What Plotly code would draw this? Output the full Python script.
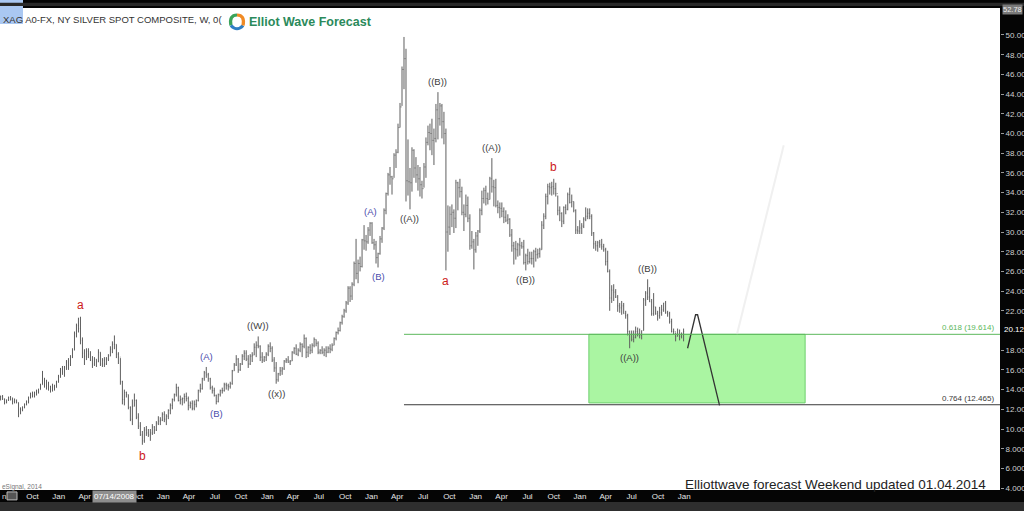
import pandas as pd
import plotly.graph_objects as go

# ---------------- data (weekly silver bars, Jun 2007 - Dec 2013) ----------------
week_start = "2007-06-11"

high = [
    # 2007
    13.40, 13.45, 13.10, 13.00, 13.30, 13.35, 13.20, 13.10, 13.00, 12.70,
    12.20, 12.30, 12.60, 12.90, 13.30, 13.70, 13.80, 13.80, 14.00, 14.10,
    14.60, 15.90, 15.20, 15.00, 14.80, 14.40, 14.60, 14.50, 14.90, 15.50,
    # 2008
    16.20, 16.40, 16.40, 17.00, 17.20, 17.50, 18.20, 19.90, 20.70, 21.30,
    21.40, 19.30, 18.10, 18.20, 18.20, 17.90, 17.40, 17.30, 17.10, 18.10,
    17.80, 17.20, 17.30, 17.30, 17.60, 18.40, 18.90, 19.50, 18.60, 17.80,
    17.20, 14.90, 14.00, 13.80, 13.50, 12.30, 13.00, 13.60, 13.00, 11.60,
    10.70, 9.80, 10.20, 10.30, 10.00, 10.00, 10.50, 10.30, 10.80, 11.30,
    11.20, 11.70,
    # 2009
    11.80, 11.50, 12.00, 12.60, 13.10, 13.60, 14.60, 14.30, 13.40, 13.20,
    13.60, 13.70, 13.30, 12.80, 12.90, 12.90, 13.00, 14.00, 14.60, 15.20,
    15.90, 16.30, 15.70, 15.20, 14.40, 14.20, 13.50, 13.60, 14.00, 14.20,
    14.70, 14.70, 14.60, 14.80, 16.00, 16.70, 17.50, 17.20, 16.70, 17.60,
    18.00, 18.00, 17.50, 17.60, 17.80, 18.70, 18.90, 19.40, 18.50, 17.80,
    17.40, 17.80,
    # 2010
    18.60, 18.80, 18.40, 17.30, 16.80, 15.70, 16.30, 16.30, 17.00, 17.20,
    17.40, 17.00, 17.90, 18.30, 18.60, 18.20, 18.80, 18.70, 19.60, 19.30,
    18.40, 18.60, 18.70, 19.30, 19.10, 18.90, 18.10, 18.40, 18.20, 18.40,
    18.40, 18.60, 18.70, 19.30, 19.90, 20.30, 20.90, 21.60, 22.20, 23.00,
    24.50, 24.50, 24.90, 27.00, 29.30, 27.20, 27.50, 29.30, 30.70, 29.70,
    30.50, 31.00,
    # 2011
    31.00, 29.30, 29.10, 27.90, 29.60, 30.50, 32.40, 34.00, 36.00, 36.60,
    35.70, 38.00, 38.40, 41.00, 43.10, 46.80, 49.80, 48.60, 39.40, 36.50,
    38.60, 38.40, 37.60, 36.80, 36.60, 35.20, 37.00, 39.60, 40.80, 41.00,
    41.50, 40.50, 43.00, 44.20, 43.10, 43.00, 42.20, 40.50, 32.70, 32.60,
    32.80, 32.30, 35.30, 35.10, 35.40, 34.60, 32.80, 33.80, 33.60, 31.80,
    30.10, 29.30,
    # 2012
    30.00, 30.20, 32.40, 34.20, 34.50, 34.70, 34.00, 35.60, 37.50, 35.30,
    35.40, 33.20, 33.00, 33.00, 32.50, 32.20, 31.80, 31.40, 30.30, 29.00,
    29.10, 28.90, 29.40, 29.00, 29.20, 27.80, 28.30, 28.00, 28.00, 28.20,
    28.40, 28.30, 28.40, 31.10, 31.90, 33.90, 34.90, 35.00, 35.10, 35.40,
    35.00, 33.70, 32.60, 32.00, 32.60, 32.80, 34.00, 34.50, 33.80, 33.10,
    32.30, 30.60, 31.20,
    # 2013
    30.90, 31.50, 32.50, 32.40, 32.40, 31.80, 30.00, 29.10, 29.10, 29.20,
    29.30, 28.80, 28.40, 28.10, 26.20, 24.60, 24.70, 24.20, 23.60, 22.80,
    23.00, 22.80, 22.00, 21.70, 20.00, 20.00, 20.00, 20.40, 20.30, 20.20,
    20.00, 23.30, 24.00, 25.20, 24.40, 23.20, 23.80, 22.40, 22.00, 22.40,
    22.60, 22.80, 23.00, 22.00, 21.90, 21.20, 20.20, 19.80, 20.20, 20.10,
    19.80, 20.20,
]

low = [
    # 2007
    12.90, 12.95, 12.50, 12.60, 12.85, 12.90, 12.50, 12.60, 12.60, 11.20,
    11.50, 11.80, 12.10, 12.40, 12.60, 13.10, 13.20, 13.20, 13.40, 13.60,
    14.00, 14.50, 14.20, 14.00, 13.90, 13.70, 13.80, 13.90, 14.20, 14.70,
    # 2008
    15.20, 15.50, 15.30, 16.00, 16.00, 16.40, 17.20, 18.00, 19.30, 19.80,
    18.60, 17.20, 16.50, 17.00, 17.20, 16.90, 16.20, 16.40, 16.30, 16.80,
    16.40, 16.30, 16.30, 16.50, 16.90, 17.40, 17.70, 18.10, 17.20, 16.60,
    14.50, 12.50, 12.40, 13.20, 12.00, 10.80, 10.40, 12.30, 11.00, 10.00,
    9.30, 8.40, 8.60, 9.30, 9.20, 8.80, 9.40, 9.50, 9.80, 10.40,
    10.40, 10.80,
    # 2009
    10.70, 10.40, 11.00, 11.50, 12.00, 12.80, 13.30, 12.80, 12.50, 12.40,
    12.60, 12.80, 11.90, 12.10, 11.90, 11.90, 12.20, 12.80, 13.70, 14.00,
    14.90, 15.20, 14.80, 14.00, 13.60, 13.30, 12.50, 12.70, 13.30, 13.60,
    13.80, 14.00, 13.90, 14.10, 14.50, 15.90, 16.40, 15.70, 15.90, 16.50,
    17.00, 16.90, 16.20, 16.50, 16.80, 17.50, 17.30, 18.20, 16.90, 16.70,
    16.80, 16.90,
    # 2010
    17.40, 17.80, 16.80, 15.80, 14.60, 14.80, 15.40, 15.50, 16.00, 16.70,
    16.70, 16.50, 16.90, 17.60, 17.50, 17.40, 17.80, 17.30, 18.20, 17.20,
    17.30, 17.60, 17.70, 18.30, 18.40, 17.60, 17.60, 17.60, 17.40, 17.30,
    17.70, 17.70, 17.90, 18.50, 19.00, 19.60, 19.90, 20.60, 21.30, 21.80,
    22.60, 22.90, 23.10, 24.50, 25.20, 24.80, 26.00, 26.40, 28.20, 28.10,
    28.80, 29.60,
    # 2011
    28.80, 28.20, 26.80, 26.40, 27.70, 28.90, 30.20, 31.80, 33.70, 34.80,
    33.80, 35.50, 36.50, 38.00, 40.60, 42.80, 44.50, 33.10, 33.70, 32.30,
    34.10, 35.50, 35.00, 34.20, 33.60, 33.40, 34.50, 35.50, 38.80, 38.30,
    37.80, 36.80, 39.10, 39.40, 40.80, 39.50, 38.90, 26.10, 28.00, 29.70,
    30.50, 29.90, 30.40, 32.20, 33.50, 31.70, 30.10, 31.50, 31.00, 28.20,
    28.30, 26.20,
    # 2012
    27.90, 28.60, 29.90, 31.70, 32.90, 32.70, 32.80, 33.30, 34.00, 32.60,
    32.50, 31.90, 31.40, 31.50, 30.90, 31.00, 30.80, 29.50, 28.00, 26.70,
    27.20, 27.50, 27.60, 28.30, 26.70, 26.10, 26.70, 26.80, 26.70, 26.40,
    27.00, 27.30, 27.40, 28.20, 30.30, 31.30, 32.80, 33.80, 33.70, 33.80,
    33.60, 31.70, 31.10, 30.50, 30.80, 31.80, 32.20, 32.90, 32.50, 32.00,
    29.80, 29.80, 29.80,
    # 2013
    29.80, 30.40, 31.10, 31.30, 31.30, 29.60, 28.30, 28.10, 28.00, 28.40,
    28.20, 28.00, 26.60, 25.90, 22.00, 22.80, 23.00, 23.30, 21.90, 21.80,
    21.60, 21.70, 21.20, 19.50, 18.20, 18.90, 18.80, 19.20, 19.40, 19.20,
    19.10, 20.00, 22.50, 23.10, 22.90, 21.50, 21.50, 21.60, 21.00, 21.20,
    21.50, 21.90, 21.70, 21.40, 20.70, 19.80, 19.60, 18.90, 19.40, 19.00,
    19.20, 18.90,
]

close = [
    # 2007
    13.30, 13.05, 12.70, 12.95, 13.20, 13.00, 12.80, 12.85, 12.70, 12.00,
    12.00, 12.20, 12.50, 12.80, 13.20, 13.60, 13.40, 13.70, 13.80, 14.00,
    14.50, 15.00, 14.50, 14.60, 14.10, 14.00, 14.30, 14.20, 14.80, 15.30,
    # 2008
    16.00, 15.80, 16.30, 16.80, 16.50, 17.30, 18.00, 19.70, 20.50, 20.20,
    19.00, 17.70, 17.40, 17.90, 17.60, 17.00, 16.60, 17.10, 16.80, 17.80,
    16.60, 17.00, 16.60, 17.10, 17.40, 18.10, 18.60, 18.60, 17.60, 17.30,
    14.80, 13.00, 13.70, 13.50, 12.20, 11.00, 12.30, 12.90, 11.20, 10.30,
    9.40, 8.80, 9.90, 9.60, 9.40, 9.60, 10.20, 9.90, 10.60, 10.80,
    10.90, 11.50,
    # 2009
    11.00, 11.30, 11.90, 12.40, 13.00, 13.50, 14.20, 12.90, 13.00, 13.10,
    13.30, 13.10, 12.40, 12.60, 12.10, 12.50, 12.90, 13.90, 14.10, 15.10,
    15.70, 15.50, 15.10, 14.20, 13.90, 13.40, 12.80, 13.50, 13.90, 13.90,
    14.50, 14.40, 14.30, 14.60, 15.90, 16.50, 17.10, 16.00, 16.60, 17.40,
    17.70, 17.10, 16.60, 17.40, 17.50, 18.30, 18.50, 18.40, 17.30, 17.00,
    17.30, 17.60,
    # 2010
    18.40, 18.20, 17.00, 16.20, 15.00, 15.60, 15.90, 16.10, 16.90, 17.00,
    16.80, 16.90, 17.80, 18.20, 17.60, 18.00, 18.60, 18.40, 19.20, 17.80,
    18.30, 18.00, 18.50, 19.10, 18.70, 17.80, 18.00, 17.80, 18.00, 17.80,
    18.20, 18.10, 18.50, 19.20, 19.80, 20.00, 20.80, 21.40, 22.00, 22.80,
    24.30, 23.50, 24.70, 26.80, 25.80, 26.80, 26.50, 29.20, 29.10, 29.00,
    30.20, 30.90,
    # 2011
    28.90, 28.70, 27.40, 27.80, 29.30, 30.40, 32.20, 33.90, 35.80, 35.60,
    35.40, 37.80, 38.10, 40.60, 42.70, 46.50, 47.60, 35.20, 35.10, 35.00,
    38.30, 36.50, 35.80, 35.40, 34.80, 34.40, 36.60, 39.10, 40.10, 40.00,
    39.30, 39.50, 42.40, 41.50, 42.80, 41.20, 40.00, 30.00, 30.50, 31.80,
    32.00, 31.40, 35.00, 34.50, 34.10, 32.00, 31.80, 32.70, 31.40, 28.60,
    29.00, 28.20,
    # 2012
    29.60, 30.10, 32.20, 33.40, 34.20, 33.40, 33.30, 35.40, 34.60, 34.50,
    32.70, 32.50, 32.40, 32.10, 31.50, 31.20, 31.30, 29.70, 28.60, 28.30,
    28.20, 28.70, 28.60, 28.50, 26.90, 27.60, 27.00, 27.30, 27.30, 28.00,
    27.70, 27.80, 28.20, 30.70, 31.60, 33.60, 34.60, 34.50, 34.60, 34.40,
    33.90, 32.20, 31.90, 31.10, 32.50, 32.30, 33.80, 33.00, 33.10, 32.20,
    30.20, 30.10, 30.40,
    # 2013
    30.60, 31.30, 31.60, 31.90, 31.60, 29.90, 28.80, 28.60, 28.90, 28.70,
    28.50, 28.20, 27.00, 26.00, 23.30, 24.10, 23.90, 23.40, 22.50, 22.30,
    22.50, 21.70, 21.50, 19.90, 19.60, 19.10, 19.30, 19.90, 19.70, 19.50,
    20.00, 23.10, 23.80, 23.40, 22.90, 21.70, 22.40, 21.70, 21.50, 21.80,
    22.10, 22.80, 21.80, 21.70, 20.90, 19.90, 19.90, 19.40, 19.60, 19.40,
    19.60, 19.90,
]

# Elliott wave labels: bar index, text, side of bar, style
wave_idx = [40, 71, 103, 108, 129, 138, 185, 189, 205, 219, 223, 246, 263, 277, 315, 324]
wave_text = ["a", "b", "(A)", "(B)", "((W))", "((x))", "(A)", "(B)", "((A))", "((B))",
             "a", "((A))", "((B))", "b", "((A))", "((B))"]
wave_side = ["up", "down", "up", "down", "up", "down", "up", "down", "down", "up",
             "down", "up", "down", "up", "down", "up"]
wave_kind = ["red", "red", "blue", "blue", "dark", "dark", "blue", "blue", "dark", "dark",
             "red", "dark", "dark", "red", "dark", "dark"]

# Fibonacci levels and target zone
fib_levels = [19.614, 12.465]
fib_text = ["0.618 (19.614)", "0.764 (12.465)"]
fib_colors = ["#5cb85c", "#3a3a3a"]
zone_dates = ["2013-02-01", "2015-03-01"]
zone_vals = [12.65, 19.614]

# projected path
proj_dates = ["2014-01-13", "2014-02-10", "2014-02-17", "2014-05-05"]
proj_vals = [18.2, 21.6, 21.6, 12.4]
faint_dates = ["2014-07-05", "2014-12-16"]
faint_vals = [19.6, 38.8]

# axes
x_range = ["2007-06-09", "2017-01-12"]
y_range = [3.81, 52.74]
x_tick_dates = ["2007-10-01", "2008-01-01", "2008-04-01", "2008-07-01", "2008-10-01",
                "2009-01-01", "2009-04-01", "2009-07-01", "2009-10-01", "2010-01-01",
                "2010-04-01", "2010-07-01", "2010-10-01", "2011-01-01", "2011-04-01",
                "2011-07-01", "2011-10-01", "2012-01-01", "2012-04-01", "2012-07-01",
                "2012-10-01", "2013-01-01", "2013-04-01", "2013-07-01", "2013-10-01",
                "2014-01-01"]
x_tick_text = ["Oct", "Jan", "Apr", "", "Oct", "Jan", "Apr", "Jul", "Oct", "Jan",
               "Apr", "Jul", "Oct", "Jan", "Apr", "Jul", "Oct", "Jan", "Apr", "Jul",
               "Oct", "Jan", "Apr", "Jul", "Oct", "Jan"]
y_tick_vals = [4, 6, 8, 10, 12, 14, 16, 18, 22, 24, 26, 28, 30, 32, 34, 36, 38, 40,
               42, 44, 46, 48, 50]
last_price = 20.12
top_price = "52.78"

# ---------------- figure ----------------
assert len(high) == len(low) == len(close)
dates = pd.date_range(week_start, periods=len(close), freq="W-MON")
open_ = [close[0]] + close[:-1]

FONT = "Liberation Sans, Arial, sans-serif"
fig = go.Figure()

fig.add_trace(go.Ohlc(
    x=dates, open=open_, high=high, low=low, close=close,
    increasing=dict(line=dict(color="#5e5e5e", width=1)),
    decreasing=dict(line=dict(color="#5e5e5e", width=1)),
    tickwidth=0.25, hoverinfo="skip", showlegend=False,
))

fig.add_trace(go.Scatter(
    x=proj_dates, y=proj_vals, mode="lines",
    line=dict(color="#333333", width=1.3), hoverinfo="skip", showlegend=False,
))
fig.add_trace(go.Scatter(
    x=faint_dates, y=faint_vals, mode="lines",
    line=dict(color="#f0f0f0", width=2), hoverinfo="skip", showlegend=False,
))

shapes = []
# target zone
shapes.append(dict(type="rect", xref="x", yref="y", x0=zone_dates[0], x1=zone_dates[1],
                   y0=zone_vals[0], y1=zone_vals[1], fillcolor="#aaf5a2",
                   line=dict(color="#6fcf6f", width=1), layer="below"))
# fib lines
for lvl, col in zip(fib_levels, fib_colors):
    shapes.append(dict(type="line", xref="x", yref="y", x0=dates[202], x1=x_range[1],
                       y0=lvl, y1=lvl, line=dict(color=col, width=1)))
# top-left blue box
shapes.append(dict(type="rect", xref="paper", yref="paper", x0=0, x1=0.023,
                   y0=0.9668, y1=1.017, fillcolor="#aac8f2", line=dict(width=0)))
# top dark stripe
shapes.append(dict(type="rect", xref="paper", yref="paper", x0=0, x1=1.03,
                   y0=1.004, y1=1.011, fillcolor="#2a2a2a", line=dict(width=0)))
# bottom gray band
shapes.append(dict(type="rect", xref="paper", yref="paper", x0=0, x1=1.03,
                   y0=-0.0436, y1=-0.0249, fillcolor="#2e2e2e", line=dict(width=0)))
# small icon box bottom-left
shapes.append(dict(type="rect", xref="paper", yref="paper", x0=0.007, x1=0.017,
                   y0=-0.0205, y1=-0.004, fillcolor="#555555",
                   line=dict(color="#bbbbbb", width=1)))
# logo ring (pixel-sized around an anchor)
logo_x, logo_y = 0.237, 0.971
for path, col in [("M 0,7 Q -8,7 -6.1,-3.5", "#3aa35a"),
                  ("M -6.1,-3.5 Q 0,-10 6.1,-3.5", "#2f7fc4"),
                  ("M 6.1,-3.5 Q 8,7 0,7", "#f08a24")]:
    shapes.append(dict(type="path", xref="paper", yref="paper", xsizemode="pixel",
                       ysizemode="pixel", xanchor=logo_x, yanchor=logo_y, path=path,
                       line=dict(color=col, width=3.2)))
fig.update_layout(shapes=shapes)

ann = []
colors = {"red": "#cc1a1a", "blue": "#4b4bab", "dark": "#3c3c3c"}
sizes = {"red": 12, "blue": 9.5, "dark": 9.5}
for i, t, s, k in zip(wave_idx, wave_text, wave_side, wave_kind):
    if s == "up":
        ann.append(dict(x=dates[i], y=high[i], text=t, showarrow=False, yanchor="bottom",
                        yshift=3, font=dict(family=FONT, size=sizes[k], color=colors[k])))
    else:
        ann.append(dict(x=dates[i], y=low[i], text=t, showarrow=False, yanchor="top",
                        yshift=-2, font=dict(family=FONT, size=sizes[k], color=colors[k])))

for lvl, txt, col in zip(fib_levels, fib_text, fib_colors):
    ann.append(dict(x=0.996, xref="paper", y=lvl, yref="y", text=txt, showarrow=False,
                    xanchor="right", yanchor="bottom", yshift=0,
                    font=dict(family=FONT, size=8, color=col)))

ann += [
    dict(x=0.001, xref="paper", y=0.977, yref="paper", text="XAG A0-FX, NY SILVER SPOT COMPOSITE, W, 0(",
         showarrow=False, xanchor="left", yanchor="middle",
         font=dict(family=FONT, size=9.5, color="#333333")),
    dict(x=0.247, xref="paper", y=logo_y, yref="paper", text="<b>Elliot Wave Forecast</b>",
         showarrow=False, xanchor="left", yanchor="middle",
         font=dict(family=FONT, size=12.5, color="#2b8a5b")),
    dict(x=0.988, xref="paper", y=0.0104, yref="paper",
         text="Elliottwave forecast Weekend updated 01.04.2014", showarrow=False,
         xanchor="right", yanchor="middle", font=dict(family=FONT, size=13.5, color="#222222")),
    dict(x=0.0, xref="paper", y=0.0062, yref="paper", text="eSignal, 2014", showarrow=False,
         xanchor="left", yanchor="middle", font=dict(family=FONT, size=6.5, color="#777777")),
    dict(x="2008-07-14", xref="x", y=-0.0125, yref="paper", text="07/14/2008", showarrow=False,
         xanchor="center", yanchor="middle", bgcolor="#8e8e8e", borderpad=1,
         font=dict(family=FONT, size=8, color="#ffffff")),
    dict(x=0.0, xref="paper", y=-0.0125, yref="paper", text="n", showarrow=False,
         xanchor="left", yanchor="middle", font=dict(family=FONT, size=8, color="#dddddd")),
    dict(x=1.002, xref="paper", y=0.9959, yref="paper", text=top_price, showarrow=False,
         xanchor="left", yanchor="middle", bgcolor="#7a7a7a", borderpad=0,
         font=dict(family=FONT, size=7.5, color="#eeeeee")),
    dict(x=1.002, xref="paper", y=last_price, yref="y", text=f"{last_price:.2f}", showarrow=False,
         xanchor="left", yanchor="middle",
         font=dict(family=FONT, size=8, color="#ffffff")),
]
fig.update_layout(annotations=ann)

fig.update_layout(
    width=1024, height=511, autosize=False,
    margin=dict(l=0, r=24, t=8, b=21, pad=0, autoexpand=False),
    paper_bgcolor="#050505", plot_bgcolor="#ffffff",
    showlegend=False,
    xaxis=dict(type="date", range=x_range, rangeslider=dict(visible=False),
               showgrid=False, zeroline=False, showline=False, automargin=False,
               tickmode="array", tickvals=x_tick_dates, ticktext=x_tick_text,
               ticks="", tickfont=dict(family=FONT, size=8, color="#e6e6e6")),
    yaxis=dict(range=y_range, side="right", showgrid=False, zeroline=False, showline=False,
               automargin=False,
               tickmode="array", tickvals=y_tick_vals, tickformat=".3f",
               ticks="outside", ticklen=3, tickcolor="#999999",
               tickfont=dict(family=FONT, size=8, color="#d0d0d0")),
)

fig.write_html(
    "out.html",
    config={"displayModeBar": False},
    post_script="document.body.style.margin='0px';document.body.style.overflow='hidden';",
)
